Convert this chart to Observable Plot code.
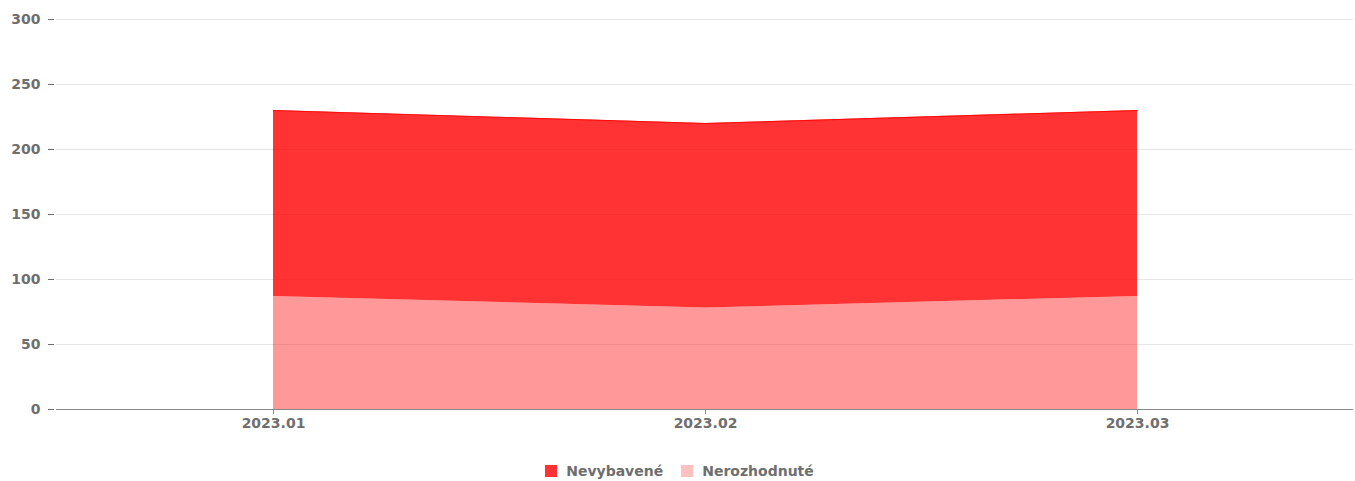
<!DOCTYPE html>
<html>
<head>
<meta charset="utf-8">
<script src="https://cdn.jsdelivr.net/npm/d3@7"></script>
<script src="https://cdn.jsdelivr.net/npm/@observablehq/plot@0.6"></script>
<style>
  body { margin: 0; background: #fff; font-family: "DejaVu Sans", sans-serif; }
  #legend { display: flex; justify-content: center; align-items: center; gap: 18px; margin-top: 18px; font-weight: bold; font-size: 14px; color: #6e6e6e; padding-left: 4px; }
  .item { display: flex; align-items: center; gap: 9px; }
  .sw { width: 12px; height: 12px; display: inline-block; }
</style>
</head>
<body>
<div id="chart"></div>
<div id="legend"></div>
<script>
const months = ["2023.01", "2023.02", "2023.03"];
const seriesNames = ["Nevybavené", "Nerozhodnuté"];
const nevybavene = [143, 142, 143];
const nerozhodnute = [87, 78, 87];
const yTicks = [0, 50, 100, 150, 200, 250, 300];

const data = [];
months.forEach((m, i) => {
  data.push({month: m, series: "Nerozhodnuté", value: nerozhodnute[i]});
  data.push({month: m, series: "Nevybavené", value: nevybavene[i]});
});
const totals = months.map((m, i) => ({month: m, total: nerozhodnute[i] + nevybavene[i]}));
const opac = {"Nevybavené": 0.8, "Nerozhodnuté": 0.4};

const chart = Plot.plot({
  width: 1355,
  height: 445,
  marginLeft: 56,
  marginRight: 2,
  marginTop: 19,
  marginBottom: 36,
  style: {fontFamily: "DejaVu Sans, sans-serif", fontSize: "14px", fontWeight: "bold", color: "#6e6e6e"},
  x: {type: "point", domain: months, padding: 0.5, label: null},
  y: {domain: [0, 300], label: null},
  marks: [
    Plot.gridY(yTicks, {stroke: "#e6e6e6", strokeOpacity: 1}),
    Plot.areaY(data, Plot.stackY({
      x: "month", y: "value", z: "series",
      order: ["Nerozhodnuté", "Nevybavené"],
      fill: "#ff0000",
      fillOpacity: d => opac[d.series],
      curve: "linear"
    })),
    Plot.lineY(totals, {x: "month", y: "total", stroke: "#ff0000", strokeOpacity: 0.8, strokeWidth: 1}),
    Plot.ruleY([0], {stroke: "#888"}),
    Plot.axisY({ticks: yTicks, tickSize: 6, tickPadding: 8, dx: -2, stroke: "#6e6e6e", fill: "#6e6e6e", label: null}),
    Plot.axisX({tickSize: 5, tickPadding: 4, stroke: "#888", fill: "#6e6e6e", label: null})
  ]
});
document.getElementById("chart").appendChild(chart);

const legend = document.getElementById("legend");
const swatch = {"Nevybavené": "#ff3333", "Nerozhodnuté": "#ffc0c0"};
seriesNames.forEach(s => {
  const it = document.createElement("div");
  it.className = "item";
  it.innerHTML = `<span class="sw" style="background:${swatch[s]}"></span><span>${s}</span>`;
  legend.appendChild(it);
});
</script>
</body>
</html>
